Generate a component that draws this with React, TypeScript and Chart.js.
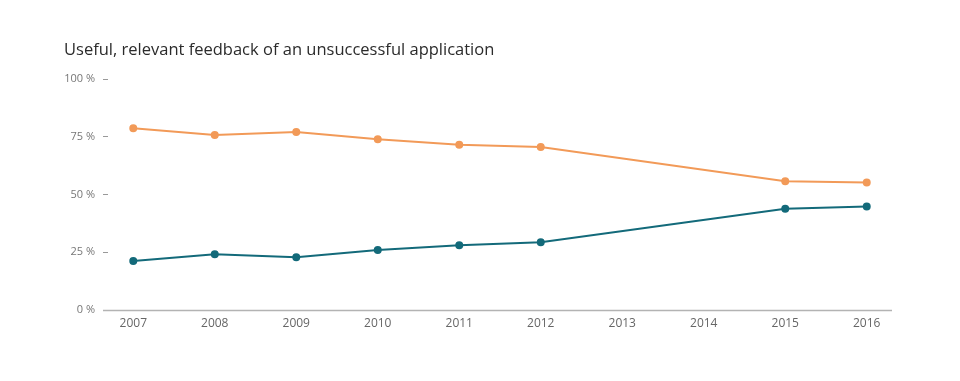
import React, { useEffect, useRef } from "react";
import { Chart, registerables } from "chart.js";

Chart.register(...registerables);

const years = [2007, 2008, 2009, 2010, 2011, 2012, 2013, 2014, 2015, 2016];
const notUseful: (number | null)[] = [78.8, 75.8, 77.1, 74.0, 71.6, 70.6, null, null, 55.8, 55.2];
const useful: (number | null)[] = [21.2, 24.2, 22.9, 26.0, 28.1, 29.4, null, null, 43.9, 44.8];
const yTicks = [0, 25, 50, 75, 100];
const title = "Useful, relevant feedback of an unsuccessful application";

const ORANGE = "#f29a58";
const TEAL = "#136a7a";
const FONT = "'Open Sans', 'Noto Sans', sans-serif";

const axisLinePlugin = {
  id: "axisLine",
  afterDraw(chart: any) {
    const { ctx, chartArea } = chart;
    ctx.save();
    ctx.strokeStyle = "#b3b3b3";
    ctx.lineWidth = 1.5;
    ctx.beginPath();
    ctx.moveTo(chartArea.left - 5, chartArea.bottom + 0.5);
    ctx.lineTo(chartArea.right, chartArea.bottom + 0.5);
    ctx.stroke();
    ctx.restore();
  },
};

export default function App() {
  const ref = useRef<HTMLCanvasElement | null>(null);
  useEffect(() => {
    if (!ref.current) return;
    const toPts = (arr: (number | null)[]) => years.map((y, i) => ({ x: y, y: arr[i] }));
    const chart = new Chart(ref.current, {
      type: "line",
      data: {
        datasets: [
          {
            label: "Not useful",
            data: toPts(notUseful) as any,
            borderColor: ORANGE,
            backgroundColor: ORANGE,
            borderWidth: 2,
            pointRadius: 3,
            pointHoverRadius: 3,
            spanGaps: true,
            tension: 0,
          },
          {
            label: "Useful",
            data: toPts(useful) as any,
            borderColor: TEAL,
            backgroundColor: TEAL,
            borderWidth: 2,
            pointRadius: 3,
            pointHoverRadius: 3,
            spanGaps: true,
            tension: 0,
          },
        ],
      },
      options: {
        animation: false,
        responsive: true,
        maintainAspectRatio: false,
        layout: { padding: { left: 56, right: 60, top: 0, bottom: 0 } },
        plugins: {
          legend: { display: false },
          tooltip: { enabled: false },
          title: {
            display: true,
            text: title,
            align: "start",
            color: "#2b2b2b",
            font: { family: FONT, size: 16.5, weight: "normal" },
            padding: { top: 32, bottom: 19.4 },
          },
        },
        scales: {
          x: {
            type: "linear",
            min: 2006.69,
            max: 2016.31,
            afterBuildTicks: (scale: any) => {
              scale.ticks = years.map((v) => ({ value: v }));
            },
            afterFit: (scale: any) => {
              scale.height = 63;
            },
            grid: { display: false, drawTicks: false },
            border: { display: false },
            ticks: {
              color: "#666",
              font: { family: FONT, size: 12 },
              padding: 6,
              maxRotation: 0,
              autoSkip: false,
              callback: (v: any) => String(v),
            },
          },
          y: {
            min: 0,
            max: 100,
            afterBuildTicks: (scale: any) => {
              scale.ticks = yTicks.map((v) => ({ value: v }));
            },
            afterFit: (scale: any) => {
              scale.width = 44;
            },
            grid: {
              drawOnChartArea: false,
              drawTicks: true,
              tickLength: 5,
              color: "#999",
              lineWidth: 1,
            },
            border: { display: false },
            ticks: {
              color: "#777",
              font: { family: FONT, size: 11 },
              padding: 8,
              callback: (v: any) => v + " %",
            },
          },
        },
      },
      plugins: [axisLinePlugin],
    });
    return () => chart.destroy();
  }, []);
  return (
    <div style={{ width: 944, height: 365, position: "relative" }}>
      <canvas ref={ref} />
    </div>
  );
}
